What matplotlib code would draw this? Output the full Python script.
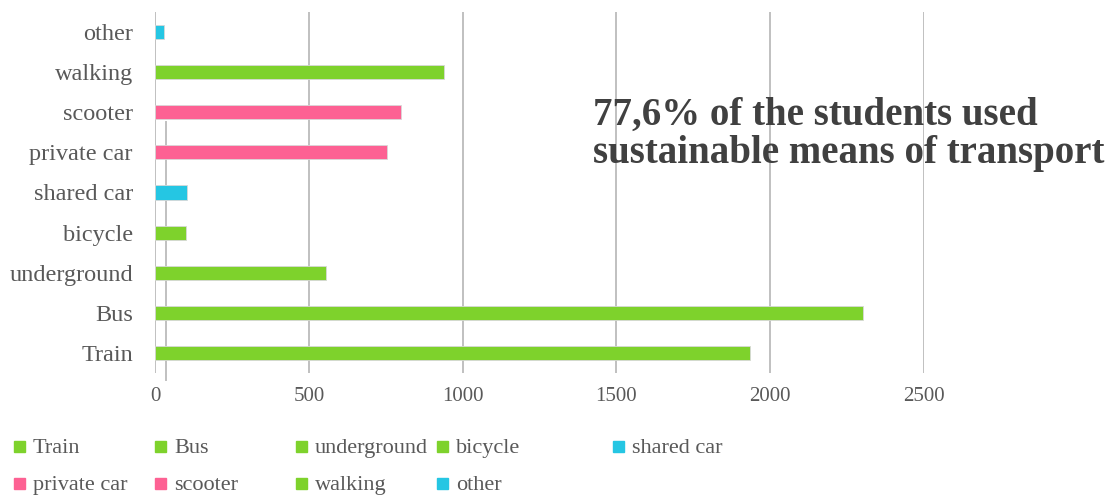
import matplotlib.pyplot as plt
from matplotlib.lines import Line2D
from matplotlib.patches import Rectangle

# data
categories = ["Train", "Bus", "underground", "bicycle", "shared car",
              "private car", "scooter", "walking", "other"]
values = [1933, 2300, 555, 100, 105, 753, 799, 941, 29]
groups = ["green", "green", "green", "green", "blue",
          "pink", "pink", "green", "blue"]
x_ticks = [0, 500, 1000, 1500, 2000, 2500]
headline = "77,6% of the students used\nsustainable means of transport"

palette = {"green": "#7ED22C", "pink": "#FD6193", "blue": "#25C6E3"}
colors = [palette[g] for g in groups]
text_gray = "#595959"

plt.rcParams['font.family'] = ['Liberation Serif', 'DejaVu Serif']

W, H = 1109, 497
fig = plt.figure(figsize=(W / 100, H / 100), dpi=100)
ax = fig.add_axes([0.1398, 0.2495, 0.6934, 0.7264])

ypos = list(range(len(categories)))
ax.barh(ypos, values, height=0.35, color=colors, edgecolor="#d8d8d8",
        linewidth=0.6, zorder=3)

ax.set_xlim(0, 2500)
ax.set_ylim(-0.5, len(categories) - 0.5)
ax.set_xticks(x_ticks)
ax.set_xticklabels([str(t) for t in x_ticks])
ax.set_yticks(ypos)
ax.set_yticklabels(categories)
ax.tick_params(axis='both', length=0, colors=text_gray)
ax.tick_params(axis='y', labelsize=17.5, pad=16)
ax.tick_params(axis='x', labelsize=15, pad=10)
ax.grid(axis='x', color="#c0c0c0", linewidth=1.4, zorder=0)
for s in ax.spines.values():
    s.set_visible(False)

# stray vertical line that appears in the source image (behind the bars)
stray = Line2D([166 / W, 166 / W], [1 - 122 / H, 1 - 380 / H],
               transform=fig.transFigure, color="#c0c0c0", linewidth=1.4,
               zorder=1)
stray.set_clip_on(False)
ax.add_line(stray)

# headline
fig.text(593 / W, 1 - 97 / H, headline, ha='left', va='top',
         fontsize=28, fontweight='bold', color="#404040", linespacing=1.02)

# legend laid out like the original (row-wise)
col_x = [14, 155, 296, 437, 613]
row_y = [446, 483]
slots = [(0, 0), (0, 1), (0, 2), (0, 3), (0, 4), (1, 0), (1, 1), (1, 2), (1, 3)]
for idx, (r, c) in enumerate(slots):
    x0 = col_x[c] / W
    yc = 1 - row_y[r] / H
    fig.add_artist(Rectangle((x0, yc - 5.5 / H), 11 / W, 11 / H,
                             transform=fig.transFigure, color=colors[idx]))
    fig.text(x0 + 19 / W, yc - 7 / H, categories[idx], ha='left',
             va='baseline', fontsize=16, color=text_gray)

plt.savefig("out.png", dpi=100)
